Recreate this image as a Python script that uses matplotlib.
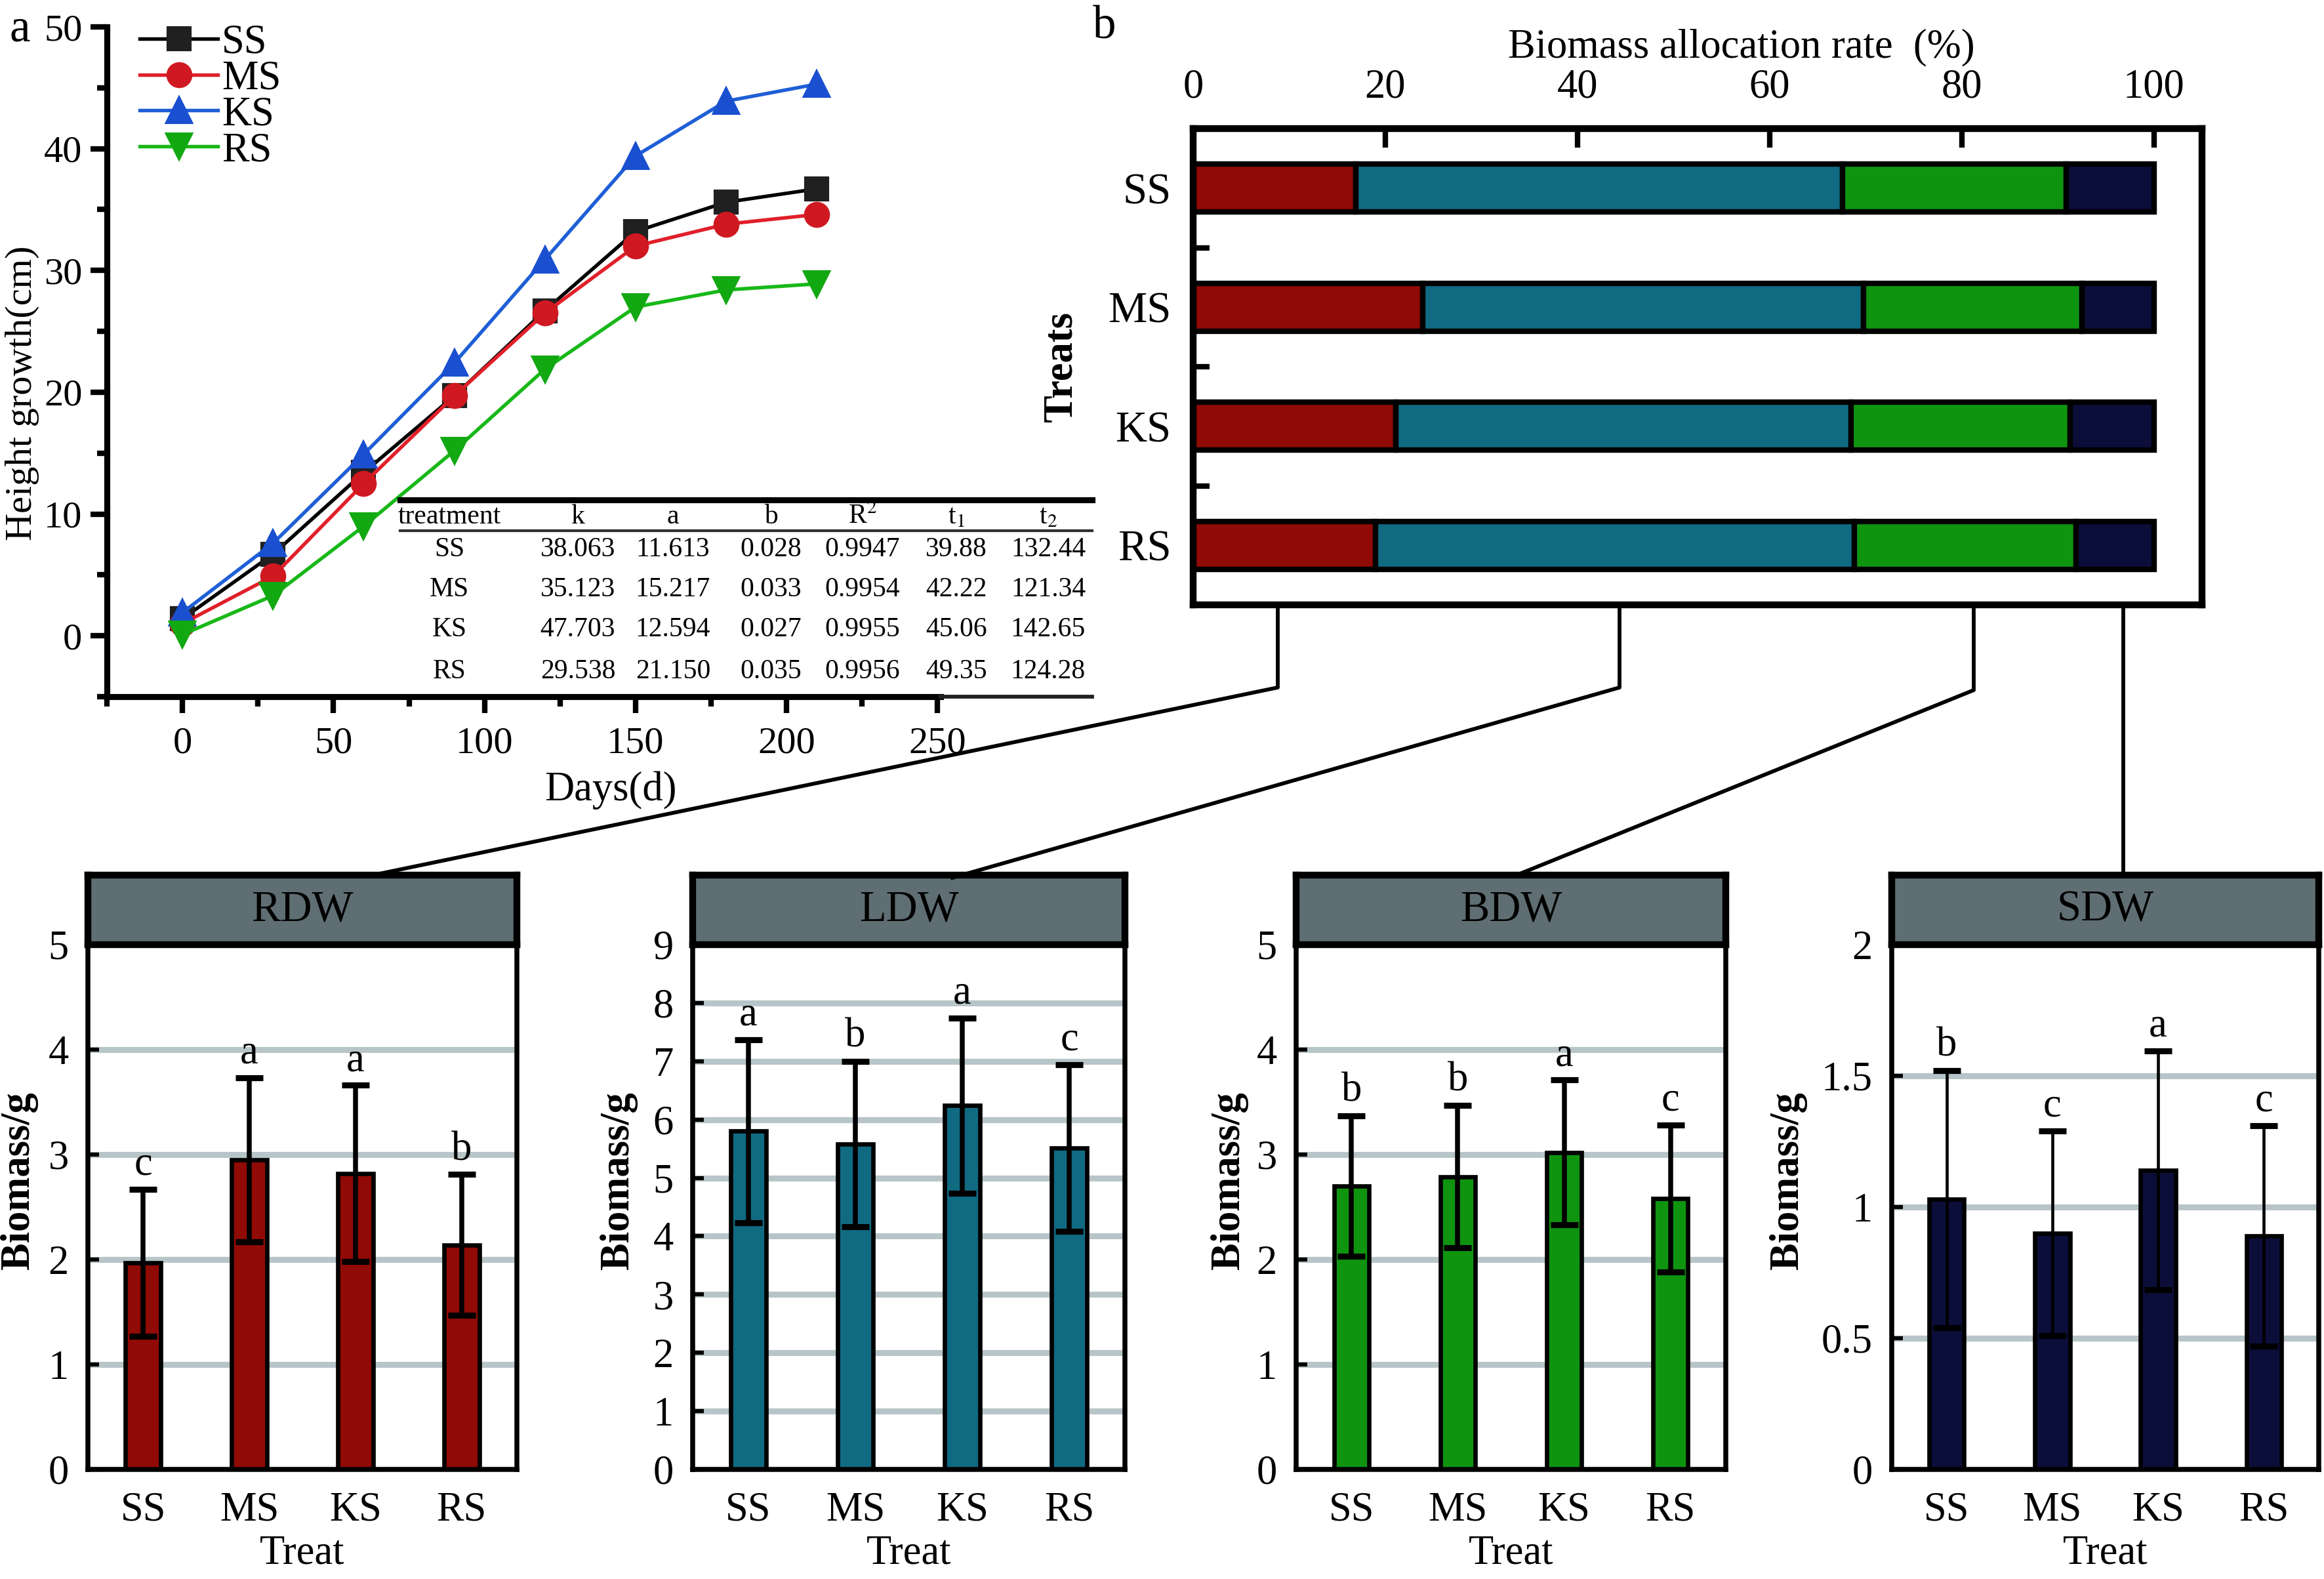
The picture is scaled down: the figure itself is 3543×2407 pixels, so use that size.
import matplotlib
matplotlib.use("Agg")
import matplotlib.pyplot as plt
from matplotlib.lines import Line2D
from matplotlib.ticker import MultipleLocator, FuncFormatter
import numpy as np

plt.rcParams['font.family'] = ['Liberation Serif', 'DejaVu Serif']
plt.rcParams['mathtext.fontset'] = 'stix'

W, H = 3543, 2407

# ---- panel a: height growth ----
days = [0, 30, 60, 90, 120, 150, 180, 210]
ss_height = [1.4, 6.7, 13.4, 19.7, 26.7, 33.2, 35.6, 36.7]
ms_height = [1.0, 4.9, 12.5, 19.7, 26.5, 32.0, 33.8, 34.6]
ks_height = [1.9, 7.6, 14.9, 22.4, 30.9, 39.4, 43.9, 45.3]
rs_height = [0.1, 3.3, 9.0, 15.2, 21.9, 27.0, 28.4, 28.9]

table_header = ['treatment', 'k', 'a', 'b', r'R$^2$', r't$_1$', r't$_2$']
table_rows = [
    ['SS', '38.063', '11.613', '0.028', '0.9947', '39.88', '132.44'],
    ['MS', '35.123', '15.217', '0.033', '0.9954', '42.22', '121.34'],
    ['KS', '47.703', '12.594', '0.027', '0.9955', '45.06', '142.65'],
    ['RS', '29.538', '21.150', '0.035', '0.9956', '49.35', '124.28'],
]

# ---- panel b: allocation rate (%) ----
treats = ['SS', 'MS', 'KS', 'RS']
rdw_rate = [16.9, 23.9, 21.1, 19.0]
ldw_rate = [50.7, 45.9, 47.4, 49.8]
bdw_rate = [23.3, 22.7, 22.8, 23.1]
sdw_rate = [9.1, 7.5, 8.7, 8.1]

# ---- bottom panels: biomass ----
rdw_mean = [1.97, 2.95, 2.82, 2.14]
rdw_err = [0.70, 0.78, 0.84, 0.67]
rdw_sig = ['c', 'a', 'a', 'b']
ldw_mean = [5.80, 5.58, 6.24, 5.51]
ldw_err = [1.57, 1.42, 1.50, 1.43]
ldw_sig = ['a', 'b', 'a', 'c']
bdw_mean = [2.70, 2.79, 3.02, 2.58]
bdw_err = [0.67, 0.68, 0.69, 0.70]
bdw_sig = ['b', 'b', 'a', 'c']
sdw_mean = [1.03, 0.90, 1.14, 0.89]
sdw_err = [0.49, 0.39, 0.455, 0.42]
sdw_sig = ['b', 'c', 'a', 'c']

red = '#900a06'
teal = '#106a82'
green = '#0f9410'
navy = '#0b0e38'


def rect(x0, y0, x1, y1):
    # pixel box -> figure fraction
    return [x0 / W, 1 - y1 / H, (x1 - x0) / W, (y1 - y0) / H]


def fx(x):
    return x / W


def fy(y):
    return 1 - y / H


fig = plt.figure(figsize=(W / 300, H / 300), dpi=300)

# ================= panel a =================
a_x0, a_y0, a_x1, a_y1 = 163, 41, 1434, 1062
ax = fig.add_axes(rect(a_x0, a_y0, a_x1, a_y1))
ax.plot(days, ss_height, '-s', color='black', mfc='#202020', mec='#202020', ms=8, lw=1.3, label='SS')
ax.plot(days, ms_height, '-o', color='#e0202a', mfc='#d01820', mec='#d01820', ms=8.5, lw=1.3, label='MS')
ax.plot(days, ks_height, '-^', color='#1f5fd6', mfc='#1a4fd0', mec='#1a4fd0', ms=9, lw=1.3, label='KS')
ax.plot(days, rs_height, '-v', color='#18b818', mfc='#12a812', mec='#12a812', ms=9, lw=1.3, label='RS')
ax.set_xlim(-25, 251)
ax.set_ylim(-5, 50)
ax.spines['top'].set_visible(False)
ax.spines['right'].set_visible(False)
for s in ['left', 'bottom']:
    ax.spines[s].set_linewidth(2.2)
ax.xaxis.set_major_locator(MultipleLocator(50))
ax.xaxis.set_minor_locator(MultipleLocator(25))
ax.yaxis.set_major_locator(MultipleLocator(10))
ax.yaxis.set_minor_locator(MultipleLocator(5))
ax.tick_params(which='major', direction='out', length=6, width=2, labelsize=14, pad=3)
ax.tick_params(axis='x', which='major', pad=5)
ax.tick_params(which='minor', direction='out', length=3.5, width=2)
ax.set_xlabel('Days(d)', fontsize=15)
ax.xaxis.set_label_coords((931 - a_x0) / (a_x1 - a_x0), -(1175 - a_y1) / (a_y1 - a_y0))
ax.set_ylabel('Height growth(cm)', fontsize=14)
ax.yaxis.set_label_coords((60 - a_x0) / (a_x1 - a_x0), (a_y1 - 599) / (a_y1 - a_y0))
ax.legend(loc='upper left', bbox_to_anchor=(0.015, 1.035), frameon=False, fontsize=15,
          handlelength=1.9, handletextpad=0.1, labelspacing=-0.05, borderpad=0)

# fitted-parameter table
fig.add_artist(Line2D([fx(610), fx(1665)], [fy(762), fy(762)], color='black', lw=2.2))
fig.add_artist(Line2D([fx(610), fx(1665)], [fy(809), fy(809)], color='#303030', lw=1.0))
fig.add_artist(Line2D([fx(1434), fx(1665)], [fy(1062), fy(1062)], color='#202020', lw=1.4))
col_x = [685, 881, 1026, 1175, 1315, 1458, 1598]
row_y = [838, 899, 960, 1024]
for cx, hd in zip(col_x, table_header):
    fig.text(fx(cx), fy(788), hd, ha='center', va='center', fontsize=10)
for ry, row in zip(row_y, table_rows):
    for cx, val in zip(col_x, row):
        fig.text(fx(cx), fy(ry), val, ha='center', va='center', fontsize=10)

fig.text(fx(30), fy(45), 'a', ha='center', va='center', fontsize=17)

# ================= panel b =================
bx = fig.add_axes(rect(1819, 196, 3357, 922))
ypos = np.arange(len(treats))
left = np.zeros(len(treats))
for vals, c in [(rdw_rate, red), (ldw_rate, teal), (bdw_rate, green), (sdw_rate, navy)]:
    bx.barh(ypos, vals, left=left, height=0.4, color=c, edgecolor='black', lw=2)
    left = left + np.array(vals)
bx.set_xlim(0, 105)
bx.set_ylim(3.5, -0.5)
bx.xaxis.tick_top()
bx.set_xticks([0, 20, 40, 60, 80, 100])
bx.set_yticks(ypos)
bx.set_yticklabels(treats)
bx.set_yticks([0.5, 1.5, 2.5], minor=True)
bx.tick_params(axis='x', which='major', direction='in', length=7, width=2, labelsize=15, pad=8)
bx.tick_params(axis='y', which='major', length=0, labelsize=16, pad=8)
bx.tick_params(axis='y', which='minor', direction='in', length=6, width=2)
for s in bx.spines.values():
    s.set_linewidth(2.5)
bx.set_ylabel('Treats', fontsize=15, fontweight='bold', labelpad=10)
fig.text(fx(2655), fy(72), 'Biomass allocation rate  (%)', ha='center', va='center', fontsize=15)
fig.text(fx(1684), fy(41), 'b', ha='center', va='center', fontsize=17)

# ================= bottom panels =================
# name, means, errors, letters, colour, ymax, step, left px, right px, ylabel right edge px
panels = [
    ('RDW', rdw_mean, rdw_err, rdw_sig, red, 5, 1, 134, 788, 58),
    ('LDW', ldw_mean, ldw_err, ldw_sig, teal, 9, 1, 1056, 1715, 972),
    ('BDW', bdw_mean, bdw_err, bdw_sig, green, 5, 1, 1976, 2631, 1903),
    ('SDW', sdw_mean, sdw_err, sdw_sig, navy, 2, 0.5, 2884, 3535, 2755),
]
top_px, bot_px, strip_px = 1440, 2240, 1334
xs = np.arange(len(treats))
for name, mean, err, sig, c, ymax, step, x0, x1, lab_x in panels:
    pax = fig.add_axes(rect(x0, top_px, x1, bot_px))
    elw = 1.1 if name == 'SDW' else 1.8
    pax.bar(xs, mean, width=0.33, color=c, edgecolor='black', lw=1.6, zorder=2)
    pax.errorbar(xs, mean, yerr=err, fmt='none', ecolor='black', elinewidth=elw,
                 capsize=5, capthick=2.2, zorder=3)
    for xi, m, e, s in zip(xs, mean, err, sig):
        pax.annotate(s, (xi, m + e), xytext=(0, 2), textcoords='offset points',
                     ha='center', va='bottom', fontsize=15)
    pax.set_xlim(-0.52, 3.52)
    pax.set_ylim(0, ymax)
    pax.set_yticks(np.arange(0, ymax + step / 2, step))
    pax.yaxis.set_major_formatter(FuncFormatter(lambda v, p: '{:g}'.format(v)))
    pax.yaxis.grid(True, color='#b8c5c8', lw=2.2)
    pax.set_axisbelow(True)
    pax.set_xticks(xs)
    pax.set_xticklabels(treats)
    pax.tick_params(axis='x', length=0, labelsize=15, pad=8)
    pax.tick_params(axis='y', direction='in', length=4, width=1.5, labelsize=15, pad=7)
    pax.spines['top'].set_visible(False)
    for s in ['left', 'right', 'bottom']:
        pax.spines[s].set_linewidth(1.8)
    pax.set_xlabel('Treat', fontsize=15, labelpad=2)
    pax.set_ylabel('Biomass/g', fontsize=15, fontweight='bold')
    pax.yaxis.set_label_coords((lab_x - x0) / (x1 - x0), 0.55)

    sax = fig.add_axes(rect(x0, strip_px, x1, top_px))
    sax.set_facecolor('#5f6e73')
    sax.set_xticks([])
    sax.set_yticks([])
    for s in sax.spines.values():
        s.set_linewidth(2.5)
    sax.text(0.5, 0.5, name, ha='center', va='center', fontsize=16, transform=sax.transAxes)

# connectors from panel b to the bottom panels
connectors = [
    [(1948, 922), (1948, 1048), (583, 1331)],
    [(2469, 922), (2469, 1048), (1452, 1338)],
    [(3009, 922), (3009, 1052), (2312, 1334)],
    [(3237, 922), (3237, 1332)],
]
for pts in connectors:
    fig.add_artist(Line2D([fx(p[0]) for p in pts], [fy(p[1]) for p in pts], color='black', lw=1.4))

fig.savefig('out.png', dpi=300)
